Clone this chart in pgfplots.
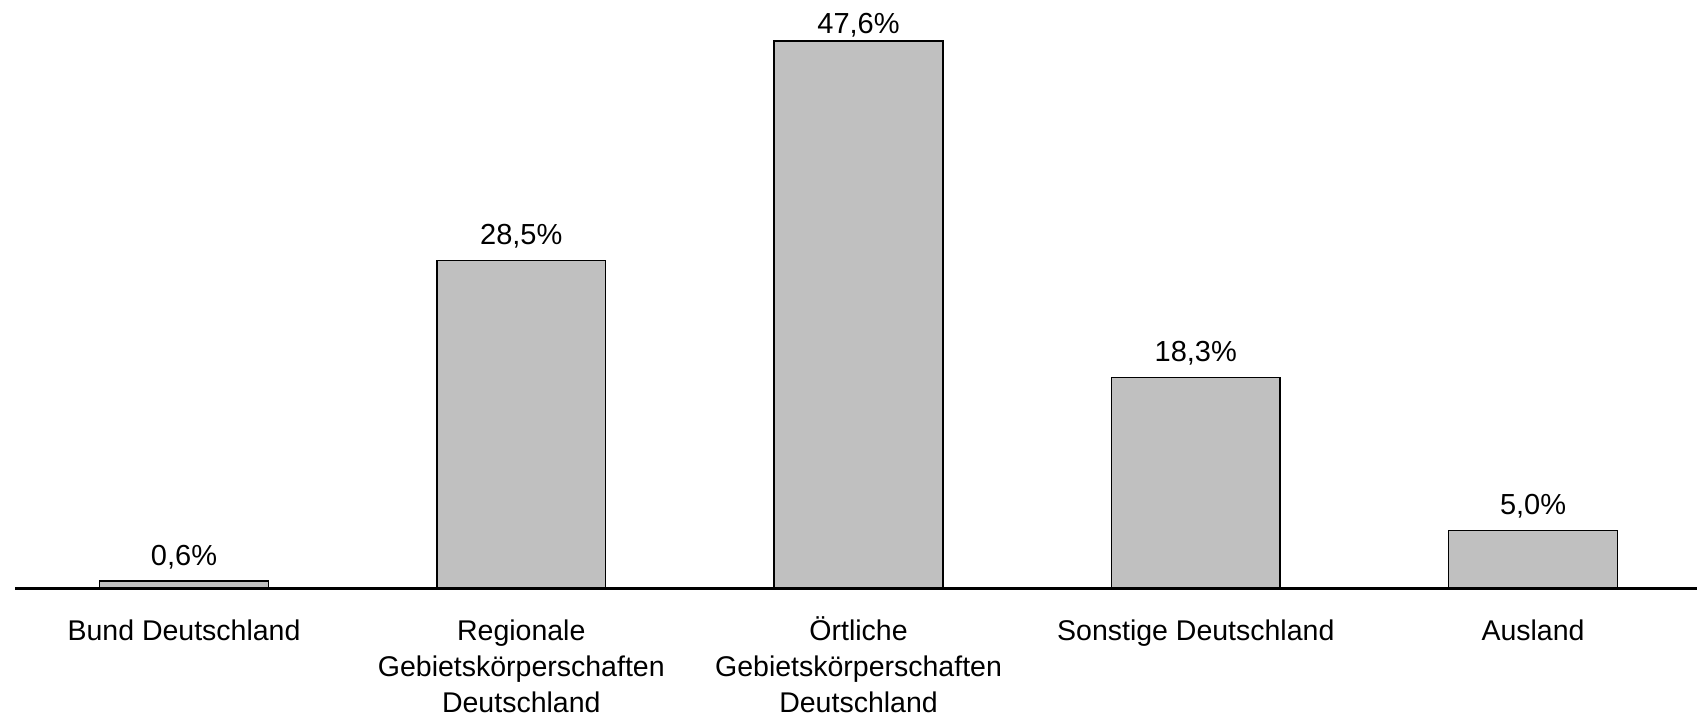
\documentclass[border=0pt]{standalone}
\usepackage{fontspec}
\setmainfont{Liberation Sans}
\usepackage{pgfplots}
\pgfplotsset{compat=1.18}
\definecolor{bargray}{RGB}{192,192,192}
\begin{document}
\begin{tikzpicture}
\begin{axis}[
  name=ax,
  scale only axis,
  width=674.5pt, height=218.8pt,
  xmin=-0.5, xmax=4.5, ymin=0, ymax=47.6,
  axis x line*=bottom, axis y line=none,
  x axis line style={line width=1.2pt},
  xtick={0,1,2,3,4},
  major tick length=0pt,
  xticklabels={{\vphantom{Ö}Bund Deutschland},{\vphantom{Ö}Regionale\\Gebietskörperschaften\\Deutschland},{Örtliche\\Gebietskörperschaften\\Deutschland},{\vphantom{Ö}Sonstige Deutschland},{\vphantom{Ö}Ausland}},
  xticklabel style={align=center, font=\fontsize{11.4}{14.4}\selectfont, yshift=-7.9pt},
  ybar, bar width=0.5,
  clip=false,
  /pgf/number format/assume math mode=true,
  visualization depends on={y \as \rawy},
  nodes near coords={\pgfmathprintnumber[fixed,fixed zerofill,precision=1,use comma]{\pgfplotspointmeta}\%},
  every node near coord/.append style={font=\fontsize{11.6}{14.4}\selectfont, anchor=base, yshift={ifthenelse(\rawy>47,3.2,6.4)*1pt}, text=black},
]
\addplot[fill=bargray, draw=black, line width=0.6pt] coordinates {(0,0.6) (1,28.5) (2,47.6) (3,18.3) (4,5.0)};
\end{axis}
\pgfresetboundingbox
\path ([xshift=-6.16pt,yshift=-51.2pt]ax.south west) rectangle ([xshift=672.64pt,yshift=16.4pt]ax.north west);
\end{tikzpicture}
\end{document}
